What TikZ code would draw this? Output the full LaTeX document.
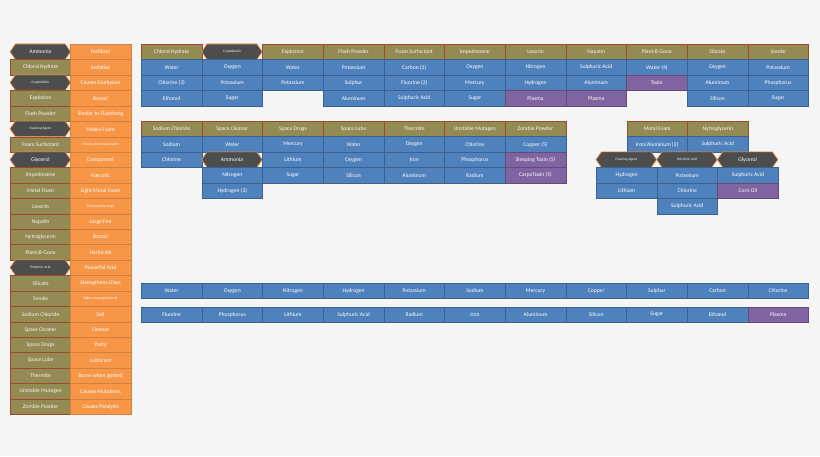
\documentclass[tikz,border=0pt]{standalone}
\usepackage{fontspec}
\setmainfont{Carlito}
\usetikzlibrary{shapes.symbols}
\definecolor{cbg}{HTML}{F5F5F5}
\definecolor{cblue}{HTML}{4F81BD}
\definecolor{colive}{HTML}{948A54}
\definecolor{cbrown}{HTML}{9C4A2A}
\definecolor{corange}{HTML}{F79646}
\definecolor{cpurple}{HTML}{8064A2}
\definecolor{chex}{HTML}{4D4D4D}
\tikzset{
 cell/.style={draw, line width=0.6pt, minimum width=60.65pt, minimum height=15.45pt, inner sep=0pt, anchor=north west, text=white, font=\fontsize{5.6}{6}\selectfont},
 b/.style={cell, fill=cblue, draw=cblue!75!black},
 p/.style={cell, fill=cpurple, draw=cpurple!75!black},
 o/.style={cell, fill=colive, draw=cbrown, text=white!92!colive},
 r/.style={cell, fill=corange, draw=corange!85!black},
 rs/.style={r, font=\fontsize{3.8}{4}\selectfont},
 h/.style={cell, signal, signal to=west and east, signal pointer angle=110, minimum width=60.65pt, anchor=center, xshift=30.3pt, yshift=-7.72pt, fill=chex, draw=corange, text=white},
 hs/.style={h, font=\fontsize{3.5}{4}\selectfont},
}
\begin{document}
\begin{tikzpicture}[x=1pt,y=-1pt]
\fill[cbg] (0,0) rectangle (820,456);
\useasboundingbox (0,0) rectangle (820,456);
% left list
\foreach \s/\a/\t/\d [count=\i] in {
 h/Ammonia/r/Fertilizer, o/Chloral Hydrate/r/Sedative, hs/Cryptobiolin/r/Causes Confusion,
 o/Explosion/r/Boom!, o/Flash Powder/r/Similar to Flashbang, hs/Foaming Agent/r/Makes Foam,
 o/Foam Surfactant/rs/Cloud when mixed with, h/Glycerol/r/Component, o/Impedrezene/r/Narcotic,
 o/Metal Foam/r/Light Metal Foam, o/Lexorin/rs/Temporarily stops, o/Napalm/r/Large Fire,
 o/Nytroglycerin/r/Boom!, o/Plant-B-Gone/r/Herbicide, hs/Polytrinic Acid/r/Powerful Acid,
 o/Silicate/r/Strengthens Glass, o/Smoke/rs/Takes on properties of, o/Sodium Chloride/r/Salt,
 o/Space Cleaner/r/Cleaner, o/Space Drugs/r/Party, o/Space Lube/r/Lubricant,
 o/Thermite/r/Burns when ignited, o/Unstable Mutagen/r/Causes Mutations, o/Zombie Powder/r/Causes Paralysis}
{
 \node[\s] (la\i) at (10,{44+(\i-1)*15.42}) {\a};
 \node[\t] (lb\i) at (70,{44+(\i-1)*15.42}) {\d};
}
% top grid
\foreach \s/\a [count=\i] in {o/Chloral Hydrate, hs/Cryptobiolin, o/Explosion, o/Flash Powder, o/Foam Surfactant, o/Impedrezene, o/Lexorin, o/Napalm, o/Plant-B-Gone, o/Silicate, o/Smoke}
 \node[\s] (th\i) at ({141+(\i-1)*60.65},44) {\a};
\foreach \c/\r/\s/\a in {
 1/1/b/Water, 1/2/b/Chlorine (3), 1/3/b/Ethanol,
 2/1/b/Oxygen, 2/2/b/Potassium, 2/3/b/Sugar,
 3/1/b/Water, 3/2/b/Potassium,
 4/1/b/Potassium, 4/2/b/Sulphur, 4/3/b/Aluminum,
 5/1/b/Carbon (2), 5/2/b/Fluorine (2), 5/3/b/Sulphuric Acid,
 6/1/b/Oxygen, 6/2/b/Mercury, 6/3/b/Sugar,
 7/1/b/Nitrogen, 7/2/b/Hydrogen, 7/3/p/Plasma,
 8/1/b/Sulphuric Acid, 8/2/b/Aluminum, 8/3/p/Plasma,
 9/1/b/Water (4), 9/2/p/Toxin,
 10/1/b/Oxygen, 10/2/b/Aluminum, 10/3/b/Silicon,
 11/1/b/Potassium, 11/2/b/Phosphorus, 11/3/b/Sugar}
 \node[\s] (t\c-\r) at ({141+(\c-1)*60.65},{44+\r*15.45}) {\a};
% middle grid
\foreach \a [count=\i] in {Sodium Chloride, Space Cleaner, Space Drugs, Space Lube, Thermite, Unstable Mutagen, Zombie Powder}
 \node[o] (mh\i) at ({141+(\i-1)*60.65},121) {\a};
\foreach \c/\r/\s/\a in {
 1/1/b/Sodium, 1/2/b/Chlorine,
 2/1/b/Water, 2/2/h/Ammonia, 2/3/b/Nitrogen, 2/4/b/Hydrogen (3),
 3/1/b/Mercury, 3/2/b/Lithium, 3/3/b/Sugar,
 4/1/b/Water, 4/2/b/Oxygen, 4/3/b/Silicon,
 5/1/b/Oxygen, 5/2/b/Iron, 5/3/b/Aluminum,
 6/1/b/Chlorine, 6/2/b/Phosphorus, 6/3/b/Radium,
 7/1/b/Copper (5), 7/2/p/Sleeping Toxin (5), 7/3/p/CarpoToxin (5)}
 \node[\s] (m\c-\r) at ({141+(\c-1)*60.65},{121+\r*15.45}) {\a};
% right group
\node[o] (rh1) at (626.5,121) {Metal Foam};
\node[o] (rh2) at (687.2,121) {Nytroglycerin};
\node[b] (r1) at (626.5,136.45) {Iron/Aluminum (3)};
\node[b] (r2) at (687.2,136.45) {Sulphuric Acid};
\node[hs] (g1) at (596,151.9) {Foaming Agent};
\node[hs] (g2) at (656.65,151.9) {Polytrinic Acid};
\node[h] (g3) at (717.3,151.9) {Glycerol};
\node[b] (g1a) at (596,167.35) {Hydrogen};
\node[b] (g1b) at (596,182.8) {Lithium};
\node[b] (g2a) at (656.65,167.35) {Potassium};
\node[b] (g2b) at (656.65,182.8) {Chlorine};
\node[b] (g2c) at (656.65,198.25) {Sulphuric Acid};
\node[b] (g3a) at (717.3,167.35) {Sulphuric Acid};
\node[p] (g3b) at (717.3,182.8) {Corn Oil};
% bottom rows
\foreach \a [count=\i] in {Water, Oxygen, Nitrogen, Hydrogen, Potassium, Sodium, Mercury, Copper, Sulphur, Carbon, Chlorine}
 \node[b] (e\i) at ({141+(\i-1)*60.65},283) {\a};
\foreach \s/\a [count=\i] in {b/Fluorine, b/Phosphorus, b/Lithium, b/Sulphuric Acid, b/Radium, b/Iron, b/Aluminum, b/Silicon, b/Sugar, b/Ethanol, p/Plasma}
 \node[\s] (f\i) at ({141+(\i-1)*60.65},306.5) {\a};
\end{tikzpicture}
\end{document}
